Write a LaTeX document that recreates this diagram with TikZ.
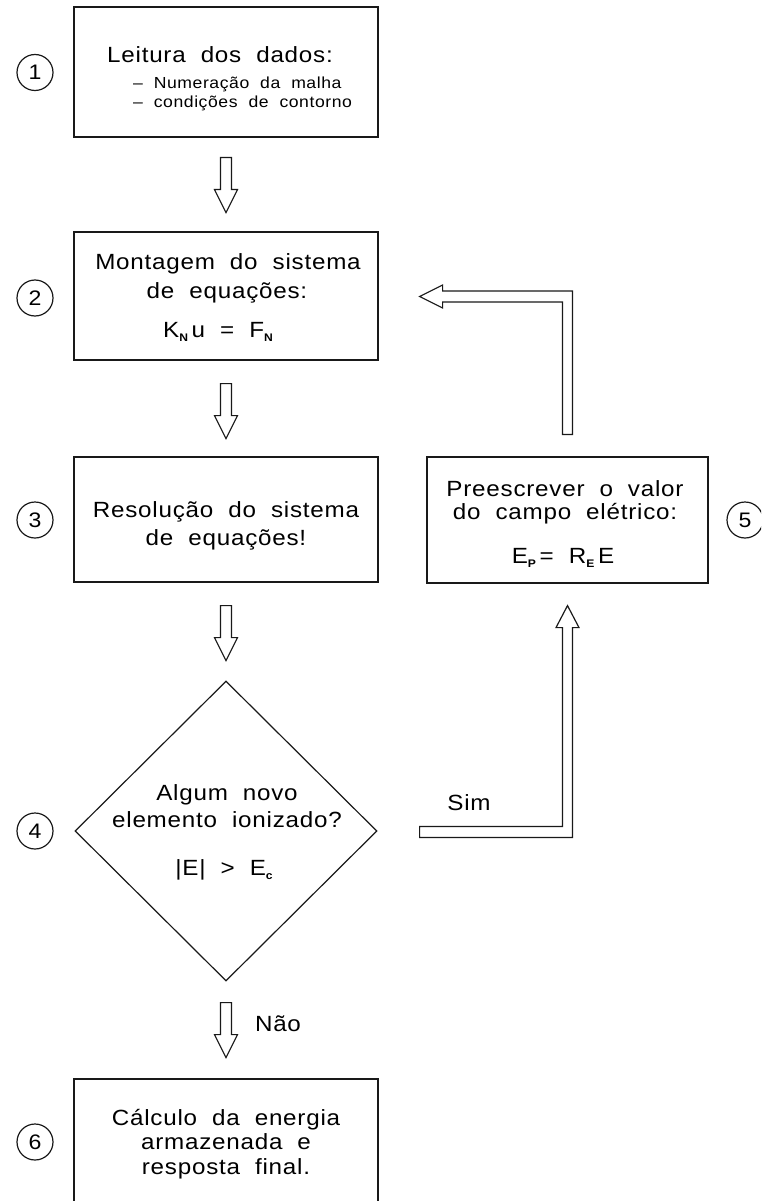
\documentclass[tikz,border=0pt]{standalone}
\usepackage{fontspec}
\setmainfont{Liberation Sans}[FakeStretch=1.1,LetterSpace=3.5,WordSpace=2]
\usetikzlibrary{shapes.geometric,calc}
\newcommand\mysub[1]{\raisebox{-0.35ex}{\fontsize{11}{11}\selectfont\bfseries #1}}
\newcommand\dnarrow[1]{\draw[blk] ($(#1)+(-5.5,0)$) -- ++(0,32) -- ++(-6,0) -- ++(11.5,23) -- ++(11.5,-23) -- ++(-6,0) -- ++(0,-32) -- cycle;}
\begin{document}
\begin{tikzpicture}[x=1pt,y=-1pt,
  ln/.style={line width=1.2pt, draw=black!90},
  box/.style={ln, rectangle, minimum width=304pt, inner sep=0pt},
  txt/.style={anchor=base, inner sep=0pt, font=\fontsize{22}{26}\selectfont},
  small/.style={anchor=base west, inner sep=0pt, font=\fontsize{16}{18}\selectfont},
  num/.style={ln, circle, minimum size=36pt, inner sep=0pt, font=\fontsize{21}{21}\selectfont},
  blk/.style={ln, line join=miter}]
\useasboundingbox (0,0) rectangle (761,1201);
\clip (0,0) rectangle (761,1201);
% boxes
\node[box, minimum height=130pt] (b1) at (226,72) {};
\node[box, minimum height=128pt] (b2) at (226,296) {};
\node[box, minimum height=125pt] (b3) at (226,519.5) {};
\node[box, minimum width=281pt, minimum height=126pt] (b5) at (567.5,520) {};
\node[ln, diamond, minimum width=302pt, minimum height=300pt, inner sep=0pt] (d4) at (226,831) {};
\node[box, minimum height=124pt] (b6) at (226,1141) {};
% numbers
\node[num] (c1) at (35,72.5) {1};
\node[num] (c2) at (35,298) {2};
\node[num] (c3) at (35,520) {3};
\node[num] (c4) at (35,831) {4};
\node[num] (c5) at (745,520) {5};
\node[num] (c6) at (35,1142) {6};
% texts
\node[txt] (t1) at (220,63) {Leitura dos dados:};
\node[small] (t1a) at (133,89) {– Numeração da malha};
\node[small] (t1b) at (133,108) {– condições de contorno};
\node[txt] (t2a) at (228,269) {Montagem do sistema};
\node[txt] (t2b) at (227,298) {de equações:};
\node[txt] (t2c) at (218,337) {K\mysub{N}\,u = F\mysub{N}};
\node[txt] (t3a) at (226,517) {Resolução do sistema};
\node[txt] (t3b) at (226,545) {de equações!};
\node[txt] (t5a) at (565,496) {Preescrever o valor};
\node[txt] (t5b) at (565,519) {do campo elétrico:};
\node[txt] (t5c) at (563,563) {E\mysub{P}\,= R\mysub{E}\,E};
\node[txt] (t4a) at (227,800) {Algum novo};
\node[txt] (t4b) at (227,827) {elemento ionizado?};
\node[txt] (t4c) at (224,875) {|E| > E\mysub{c}};
\node[txt] (t6a) at (226,1125) {Cálculo da energia};
\node[txt] (t6b) at (226,1149) {armazenada e};
\node[txt] (t6c) at (226,1174) {resposta final.};
\node[txt] (sim) at (469,810) {Sim};
\node[txt] (nao) at (278,1031) {Não};
% down arrows
\coordinate (a1) at ($(b1.south)+(0,20)$);
\coordinate (a2) at ($(b2.south)+(0,23)$);
\coordinate (a3) at ($(b3.south)+(0,23)$);
\coordinate (a4) at ($(d4.south)+(0,21)$);
\dnarrow{a1}
\dnarrow{a2}
\dnarrow{a3}
\dnarrow{a4}
% Sim arrow
\coordinate (sT) at ($(b5.south)+(0,22)$);
\coordinate (sS) at ($(d4.east)+(42,1)$);
\draw[blk] ($(sS)+(0,-5.5)$) -- ($(sS -| sT)+(-5,-5.5)$) -- ($(sT)+(-5,22)$) -- ($(sT)+(-11.5,22)$) -- (sT) -- ($(sT)+(11.5,22)$) -- ($(sT)+(5,22)$) -- ($(sS -| sT)+(5,5.5)$) -- ($(sS)+(0,5.5)$) -- cycle;
% return arrow
\coordinate (rB) at ($(b5.north)+(0,-22)$);
\coordinate (rT) at ($(b2.east)+(41,0.5)$);
\draw[blk] ($(rB)+(-5,0)$) -- ($(rB |- rT)+(-5,5.5)$) -- ($(rT)+(23,5.5)$) -- ($(rT)+(23,11.5)$) -- (rT) -- ($(rT)+(23,-11.5)$) -- ($(rT)+(23,-5.5)$) -- ($(rB |- rT)+(5,-5.5)$) -- ($(rB)+(5,0)$) -- cycle;
\end{tikzpicture}
\end{document}
